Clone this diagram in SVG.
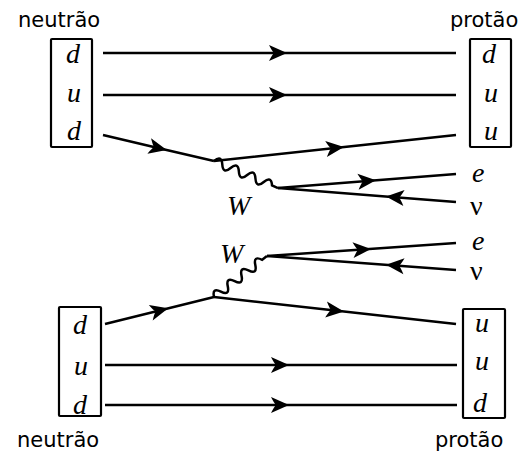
<svg xmlns="http://www.w3.org/2000/svg" width="519" height="452" viewBox="0 0 519 452">
<style>
.box{fill:none;stroke:#000;stroke-width:2.2}
.ln{fill:none;stroke:#000;stroke-width:2.5}
.ar{marker-mid:url(#arr)}
.wv{fill:none;stroke:#000;stroke-width:2.5}
.lbl{font-family:"DejaVu Sans",sans-serif;font-size:21px;fill:#000}
.q{font-family:"Liberation Serif",serif;font-style:italic;font-size:28px;fill:#000}
.nu{font-family:"Liberation Serif",serif;font-size:28px;fill:#000}
</style>
<defs>
<marker id="arr" viewBox="-10 -9 20 18" markerWidth="20" markerHeight="18" refX="0" refY="0" orient="auto" markerUnits="userSpaceOnUse">
<path d="M9,0 L-9,-8 Q-6,-2 -4,0 Q-6,2 -9,8 Z" fill="#000"/>
</marker>
</defs>

<g id="connectors">
<path class="ln ar" d="M103,53 L278,53 L456,53"/>
<path class="ln ar" d="M103,95 L278,95 L456,95"/>
<path class="ln ar" d="M103,135 L158,148 L214,161"/>
<path class="ln ar" d="M214,161 L335,148 L456,135"/>
<path class="ln ar" d="M278,188 L367,181 L456,174"/>
<path class="ln ar" d="M456,202 L395,197.2 L278,188"/>
<path class="wv" transform="translate(214,161) rotate(22.9)" d="M0,0 q4.5,-9 9,0 t9,0 t9,0 t9,0 t9,0 t9,0 t9,0 l6.5,0"/>

<path class="ln ar" d="M105,324 L159.5,310.5 L214,297"/>
<path class="ln ar" d="M214,297 L335,310.5 L456,324"/>
<path class="ln ar" d="M105,365 L280,365 L457,365"/>
<path class="ln ar" d="M105,405 L280,405 L457,405"/>
<path class="ln ar" d="M267,256 L362,249.5 L456,243"/>
<path class="ln ar" d="M456,270 L395,265.5 L267,256"/>
<path class="wv" transform="translate(214,297) rotate(-37.7)" d="M0,0 q4.3,-9 8.7,0 t8.7,0 t8.7,0 t8.7,0 t8.7,0 t8.7,0 t8.7,0 l6,0"/>
</g>

<g id="neutron-top">
<text class="lbl" x="18" y="27">neutrão</text>
<rect class="box" x="51" y="39" width="41" height="108" rx="1"/>
<text class="q" x="66" y="63">d</text>
<text class="q" x="67" y="102">u</text>
<text class="q" x="67" y="140">d</text>
</g>

<g id="proton-top">
<text class="lbl" x="450" y="27">protão</text>
<rect class="box" x="470" y="39" width="41" height="108" rx="1"/>
<text class="q" x="482" y="63">d</text>
<text class="q" x="484" y="102">u</text>
<text class="q" x="484" y="140">u</text>
</g>

<g id="leptons-top">
<text class="q" x="472" y="182">e</text>
<text class="nu" x="470" y="215">ν</text>
<text class="q" x="227" y="215">W</text>
</g>

<g id="neutron-bottom">
<rect class="box" x="59" y="307" width="42" height="109" rx="1"/>
<text class="q" x="73" y="334">d</text>
<text class="q" x="74" y="375">u</text>
<text class="q" x="73" y="414">d</text>
<text class="lbl" x="17" y="447">neutrão</text>
</g>

<g id="proton-bottom">
<rect class="box" x="463" y="309" width="42" height="109" rx="1"/>
<text class="q" x="475" y="332">u</text>
<text class="q" x="475" y="370">u</text>
<text class="q" x="473" y="412">d</text>
<text class="lbl" x="435" y="447">protão</text>
</g>

<g id="leptons-bottom">
<text class="q" x="472" y="250">e</text>
<text class="nu" x="470" y="280">ν</text>
<text class="q" x="220" y="263">W</text>
</g>
</svg>
